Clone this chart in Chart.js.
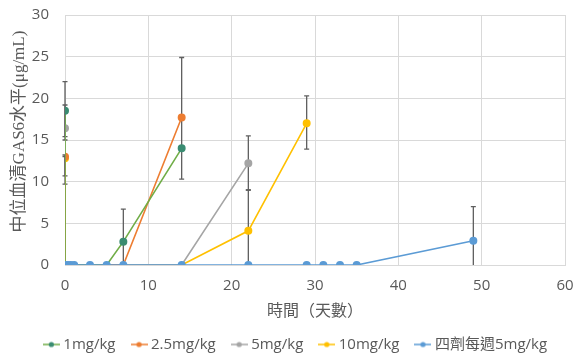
<!DOCTYPE html>
<html><head><meta charset="utf-8">
<script src="https://cdn.jsdelivr.net/npm/chart.js@4"></script>
<style>html,body{margin:0;padding:0;background:#fff}#wrap{width:574px;height:356px}</style>
</head><body><div id="wrap"><canvas id="c"></canvas></div>
<script>
// ---- data ----
const seriesNames = ['1mg/kg', '2.5mg/kg', '5mg/kg', '10mg/kg', '四劑每週5mg/kg'];
const xTicks = [0, 10, 20, 30, 40, 50, 60];
const yTicks = [0, 5, 10, 15, 20, 25, 30];

const days1 = [0, 0, 5, 7, 14];
const vals1 = [18.5, 0, 0, 2.8, 14.0];
const days25 = [0, 0, 7, 14];
const vals25 = [13.0, 0, 0, 17.7];
const days5 = [0, 0, 14, 22];
const vals5 = [16.4, 0, 0, 12.2];
const days10 = [0, 0, 14, 22, 29];
const vals10 = [12.8, 0, 0, 4.1, 17.0];
const daysQW = [0, 0.36, 0.7, 1.1, 3, 5, 7, 14, 22, 29, 31, 33, 35, 49];
const valsQW = [0, 0, 0, 0, 0, 0, 0, 0, 0, 0, 0, 0, 0, 2.9];

// error bars: day, low, high
const errDays   = [0, 7, 0, 0, 0, 14, 22, 22, 29, 49];
const errLow    = [15.0, 0, 15.4, 10.7, 9.7, 10.3, 9.0, 0, 13.9, 0];
const errHigh   = [22.0, 6.7, 19.2, 13.0, 13.2, 24.9, 15.5, 9.0, 20.3, 7.0];

// ---- styles ----
const lineColors = ['#70AD47', '#ED7D31', '#A5A5A5', '#FFC000', '#5B9BD5'];
const pointColors = ['#3A8C72', '#ED7D31', '#A5A5A5', '#FFC000', '#5B9BD5'];
const FONT = "'Open Sans', 'Noto Sans CJK TC', sans-serif";

function toPts(xs, ys) { return xs.map((x, i) => ({x: x, y: ys[i]})); }
const allDays = [days1, days25, days5, days10, daysQW];
const allVals = [vals1, vals25, vals5, vals10, valsQW];

function legendIcon(lc, pc) {
  const cv = document.createElement('canvas');
  cv.width = 17; cv.height = 10;
  const g = cv.getContext('2d');
  g.strokeStyle = lc; g.lineWidth = 1.5;
  g.beginPath(); g.moveTo(0, 5); g.lineTo(17, 5); g.stroke();
  g.fillStyle = pc; g.beginPath(); g.arc(8.5, 5, 2.6, 0, Math.PI * 2); g.fill();
  return cv;
}
const icons = lineColors.map((c, i) => legendIcon(c, pointColors[i]));

const datasets = seriesNames.map((name, i) => ({
  label: name,
  data: toPts(allDays[i], allVals[i]),
  borderColor: lineColors[i],
  backgroundColor: pointColors[i],
  pointBackgroundColor: pointColors[i],
  pointBorderColor: pointColors[i],
  borderWidth: 1.6,
  pointRadius: i === 4 ? 3.2 : (ctx => (ctx.raw && ctx.raw.y > 0) ? 3.2 : 0),
  pointHoverRadius: 3.2,
  showLine: true,
  tension: 0,
  order: i === 4 ? -1 : i
}));

const errorBarPlugin = {
  id: 'errorBars',
  beforeDatasetsDraw(chart) {
    const {ctx, scales: {x, y}} = chart;
    ctx.save();
    ctx.strokeStyle = '#5f5f5f';
    ctx.lineWidth = 1.3;
    for (let k = 0; k < errDays.length; k++) {
      const px = x.getPixelForValue(errDays[k]);
      const p1 = y.getPixelForValue(errLow[k]);
      const p2 = y.getPixelForValue(errHigh[k]);
      ctx.beginPath();
      ctx.moveTo(px, p1); ctx.lineTo(px, p2);
      ctx.moveTo(px - 2.5, p2); ctx.lineTo(px + 2.5, p2);
      if (errLow[k] > 0) { ctx.moveTo(px - 2.5, p1); ctx.lineTo(px + 2.5, p1); }
      ctx.stroke();
    }
    ctx.restore();
  }
};

const legendFitPlugin = {
  id: 'legendFit',
  beforeInit(chart) {
    const lg = chart.legend;
    if (!lg) return;
    const origFit = lg.fit;
    lg.fit = function () { origFit.call(this); this.height = 38; };
    const origDraw = lg.draw;
    lg.draw = function () {
      const c = this.ctx;
      c.save(); c.translate(10, 0);
      origDraw.apply(this, arguments);
      c.restore();
    };
  }
};

new Chart(document.getElementById('c'), {
  type: 'scatter',
  data: {datasets: datasets},
  plugins: [errorBarPlugin, legendFitPlugin],
  options: {
    responsive: true,
    maintainAspectRatio: false,
    animation: false,
    layout: {padding: {left: 0, right: 0, top: 15, bottom: 0}},
    plugins: {
      tooltip: {enabled: false},
      legend: {
        position: 'bottom',
        labels: {
          usePointStyle: true,
          pointStyleWidth: 9,
          boxHeight: 10,
          padding: 19,
          color: '#595959',
          font: {family: FONT, size: 15},
          generateLabels: chart => seriesNames.map((n, i) => ({
            text: n, pointStyle: icons[i], fillStyle: pointColors[i],
            strokeStyle: lineColors[i], lineWidth: 0, hidden: false,
            datasetIndex: i, fontColor: '#595959'
          }))
        }
      }
    },
    scales: {
      x: {
        type: 'linear', min: 0, max: 60,
        afterBuildTicks: s => { s.ticks = xTicks.map(v => ({value: v})); },
        afterFit: s => { s.paddingRight = 9; s.paddingLeft = 0; s.height = 53; },
        grid: {color: '#d9d9d9', drawTicks: false},
        border: {color: '#d9d9d9'},
        ticks: {color: '#595959', font: {family: FONT, size: 15}, padding: 12},
        title: {display: true, text: '時間（天數）', color: '#595959',
          font: {family: FONT, size: 16}, padding: {top: 0, bottom: -3}}
      },
      y: {
        type: 'linear', min: 0, max: 30,
        afterBuildTicks: s => { s.ticks = yTicks.map(v => ({value: v})); },
        afterFit: s => { s.width = 65; s.paddingTop = 0; s.paddingBottom = 0; },
        grid: {color: '#d9d9d9', drawTicks: false},
        border: {display: false},
        ticks: {color: '#595959', font: {family: FONT, size: 15}, padding: 16},
        title: {display: true, text: '\u3000中位血清GAS6水平(μg/mL)', color: '#595959',
          font: {family: "'Liberation Serif', 'Noto Sans CJK TC', serif", size: 17}, padding: {top: 9, bottom: 0}}
      }
    }
  }
});
</script>
</body></html>
